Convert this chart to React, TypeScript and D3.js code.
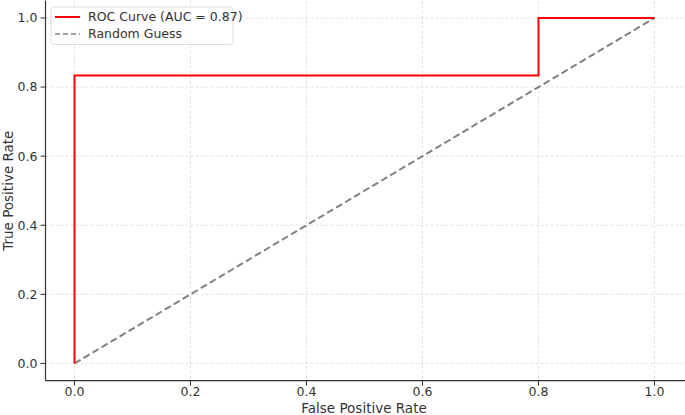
import React from "react";
import * as d3 from "d3";

const rocFpr = [0, 0, 0.8, 0.8, 1];
const rocTpr = [0, 0.8333, 0.8333, 1, 1];
const diagX = [0, 1];
const diagY = [0, 1];
const xTicks = [0, 0.2, 0.4, 0.6, 0.8, 1.0];
const yTicks = [0, 0.2, 0.4, 0.6, 0.8, 1.0];
const legendLabels = ["ROC Curve (AUC = 0.87)", "Random Guess"];

const W = 685, H = 415;
const left = 45.5, right = 683.5, top = 0.7, bottom = 380.7;
const font = "DejaVu Sans, sans-serif";

export default function App() {
  const x = d3.scaleLinear().domain([-0.05, 1.05]).range([left, right]);
  const y = d3.scaleLinear().domain([-0.05, 1.05]).range([bottom, top]);
  const line = d3.line<[number, number]>().x(d => x(d[0])).y(d => y(d[1]));
  const roc = line(rocFpr.map((v, i) => [v, rocTpr[i]] as [number, number]))!;
  const diag = line(diagX.map((v, i) => [v, diagY[i]] as [number, number]))!;
  return (
    <svg width={W} height={H} style={{ position: "absolute", left: 0, top: 0 }}>
      <rect width={W} height={H} fill="#fff" />
      {xTicks.map(t => (
        <line key={"gx" + t} x1={x(t)} x2={x(t)} y1={top} y2={bottom} stroke="#d9d9d9" strokeWidth={0.8} strokeDasharray="3,2" />
      ))}
      {yTicks.map(t => (
        <line key={"gy" + t} x1={left} x2={right} y1={y(t)} y2={y(t)} stroke="#d9d9d9" strokeWidth={0.8} strokeDasharray="3,2" />
      ))}
      <path d={diag} fill="none" stroke="#808080" strokeWidth={2} strokeDasharray="7,3.5" />
      <path d={roc} fill="none" stroke="#ff0000" strokeWidth={2} />
      <line x1={left} x2={left} y1={top} y2={bottom} stroke="#333" strokeWidth={1.2} />
      <line x1={left} x2={right + 2} y1={bottom} y2={bottom} stroke="#333" strokeWidth={1.2} />
      {xTicks.map(t => (
        <g key={"tx" + t}>
          <line x1={x(t)} x2={x(t)} y1={bottom} y2={bottom + 5} stroke="#333" strokeWidth={1} />
          <text x={x(t)} y={396} textAnchor="middle" fontFamily={font} fontSize={12.5} fill="#333">{t.toFixed(1)}</text>
        </g>
      ))}
      {yTicks.map(t => (
        <g key={"ty" + t}>
          <line x1={left - 5} x2={left} y1={y(t)} y2={y(t)} stroke="#333" strokeWidth={1} />
          <text x={left - 8} y={y(t)} dy="0.35em" textAnchor="end" fontFamily={font} fontSize={12.5} fill="#333">{t.toFixed(1)}</text>
        </g>
      ))}
      <text x={364} y={413} textAnchor="middle" fontFamily={font} fontSize={13.5} fill="#333">False Positive Rate</text>
      <text transform={`translate(13,${(top + bottom) / 2}) rotate(-90)`} textAnchor="middle" fontFamily={font} fontSize={13.5} fill="#333">True Positive Rate</text>
      <g>
        <rect x={51} y={7} width={182} height={37.5} rx={3} fill="#fff" fillOpacity={0.8} stroke="#ddd" strokeWidth={1} />
        <line x1={55} x2={80} y1={17} y2={17} stroke="#ff0000" strokeWidth={2} />
        <text x={88} y={17} dy="0.35em" fontFamily={font} fontSize={12.5} fill="#333">{legendLabels[0]}</text>
        <line x1={55} x2={80} y1={34} y2={34} stroke="#808080" strokeWidth={1.5} strokeDasharray="5,3" />
        <text x={88} y={34} dy="0.35em" fontFamily={font} fontSize={12.5} fill="#333">{legendLabels[1]}</text>
      </g>
    </svg>
  );
}
